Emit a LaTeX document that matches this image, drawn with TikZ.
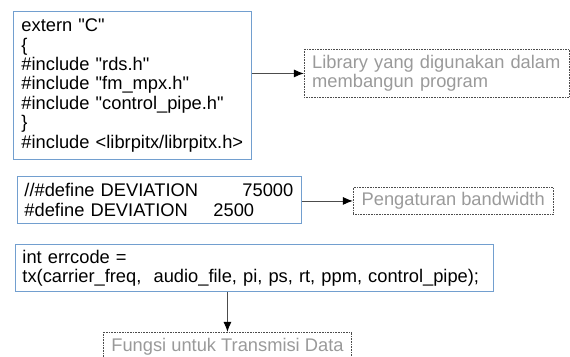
\documentclass[tikz,border=0pt]{standalone}
\usepackage{fontspec}
\setmainfont{Liberation Sans}[Ligatures=TeXOff]
\usetikzlibrary{arrows.meta, positioning}

\definecolor{boxblue}{HTML}{729FCF}
\definecolor{notegray}{HTML}{9A9A9A}

\begin{document}
\begin{tikzpicture}[
    x=1pt, y=-1pt,
    every node/.style={font=\fontsize{18.3}{19.2}\selectfont},
    codebox/.style={rectangle, draw=boxblue, line width=0.9pt, align=left, anchor=north west, inner xsep=8pt, inner ysep=0pt},
    notebox/.style={rectangle, draw=black!70, dash pattern=on 0.8pt off 0.8pt, line width=0.6pt, text=notegray, align=left, inner xsep=8pt, inner ysep=0pt},
    arrow/.style={-{Latex[length=10pt, width=8pt, black]}, draw=black!70, line width=0.9pt}
  ]

  \useasboundingbox (0,0) rectangle (570,356);

  % ============ LIBRARIES ============
  \node[codebox, text width=222pt, minimum height=148pt, font=\fontsize{18.3}{19.4}\selectfont] (libcode) at (13,11) {extern "C"\\
    \{\\
    \#include "rds.h"\\
    \#include "fm\_mpx.h"\\
    \#include "control\_pipe.h"\\
    \}\\
    \#include <librpitx/librpitx.h>};

  \node[notebox, right=52pt of libcode, yshift=12pt, text width=249pt, minimum height=48pt] (libnote) {Library yang digunakan dalam\\membangun program};

  \draw[arrow] (libnote.west -| libcode.east) -- (libnote.west);

  % ============ BANDWIDTH ============
  \node[codebox, inner xsep=7pt, text width=270pt, minimum height=47pt] (devcode) at (17,176) {\makebox[218pt][l]{//\#define DEVIATION}75000\\
    \makebox[189pt][l]{\#define DEVIATION}2500};

  \node[notebox, right=51pt of devcode, yshift=-1pt, minimum width=200pt, minimum height=27pt] (bwnote) {Pengaturan bandwidth};

  \draw[arrow] (bwnote.west -| devcode.east) -- (bwnote.west);

  % ============ TRANSMISSION ============
  \node[codebox, inner xsep=7pt, text width=464pt, minimum height=47pt] (txcode) at (15,244) {int errcode =\\
    tx(carrier\_freq,\ \ audio\_file, pi, ps, rt, ppm, control\_pipe);};

  \node[notebox, below=40pt of txcode, xshift=-27pt, minimum width=244pt, minimum height=30pt] (txnote) {Fungsi untuk Transmisi Data};

  \draw[arrow] (txnote.north |- txcode.south) -- (txnote.north);

\end{tikzpicture}
\end{document}
